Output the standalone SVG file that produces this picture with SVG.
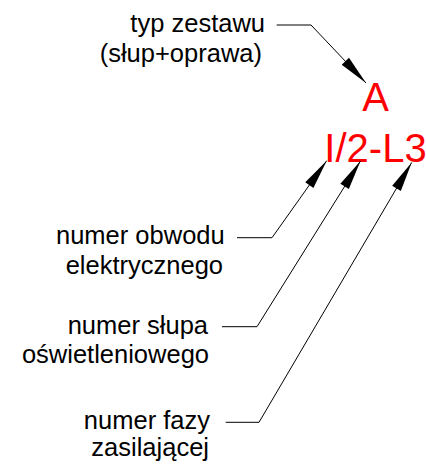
<svg xmlns="http://www.w3.org/2000/svg" width="426" height="464" viewBox="0 0 426 464">
  <style>
    .lbl { font-family: "Liberation Sans", Arial, sans-serif; font-size: 25.5px; fill: #000; text-anchor: end; }
    .code { font-family: "Liberation Sans", Arial, sans-serif; font-size: 40px; fill: #ff0000; text-anchor: middle; }
    .lead { fill: none; stroke: #000; stroke-width: 1; marker-end: url(#ah); }
  </style>
  <defs>
    <marker id="ah" markerUnits="userSpaceOnUse" markerWidth="32" markerHeight="12" viewBox="-31 -6 32 12" refX="0" refY="0" orient="auto">
      <path d="M0,0 L-30,-5 L-30,5 Z" fill="#000"/>
    </marker>
  </defs>
  <rect width="426" height="464" fill="#fff"/>
  <g id="typ-zestawu">
    <text class="lbl" x="265" y="32">typ zestawu</text>
    <text class="lbl" x="262" y="62">(słup+oprawa)</text>
  </g>
  <g id="oznaczenie">
    <text class="code" x="375.5" y="111">A</text>
    <text class="code" x="375.5" y="161.7">I/2-L3</text>
  </g>
  <g id="numer-obwodu">
    <text class="lbl" x="224.7" y="244.3">numer obwodu</text>
    <text class="lbl" x="223" y="273.5">elektrycznego</text>
  </g>
  <g id="numer-slupa">
    <text class="lbl" x="208" y="334.3">numer słupa</text>
    <text class="lbl" x="209" y="363.3">oświetleniowego</text>
  </g>
  <g id="numer-fazy">
    <text class="lbl" x="210" y="429.3">numer fazy</text>
    <text class="lbl" x="209" y="456">zasilającej</text>
  </g>
  <g id="connectors">
    <path class="lead" d="M276.7,25 H311 L366,83"/>
    <path class="lead" d="M237,237.7 H272 L326.7,160.7"/>
    <path class="lead" d="M222,326.7 H257 L360.5,161"/>
    <path class="lead" d="M225.7,422.3 H259 L411.7,162.5"/>
  </g>
</svg>
